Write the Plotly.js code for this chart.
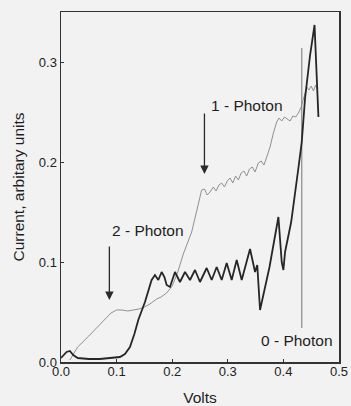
<!DOCTYPE html>
<html>
<head>
<meta charset="utf-8">
<script src="https://cdn.plot.ly/plotly-3.0.1.min.js"></script>
<style>html,body{margin:0;padding:0;background:#f2f2f2;}#chart{width:351px;height:406px;}</style>
</head>
<body>
<div id="chart"></div>
<script>
// Thin (grey) curve: 2-photon plateau then 1-photon step
const thinVolts = [0.016, 0.03, 0.05, 0.07, 0.09, 0.1, 0.11, 0.12, 0.13, 0.14, 0.15, 0.16, 0.172, 0.18, 0.19, 0.2, 0.21, 0.22, 0.235, 0.245, 0.253, 0.258, 0.263, 0.268, 0.274, 0.279, 0.284, 0.289, 0.294, 0.299, 0.304, 0.309, 0.314, 0.319, 0.324, 0.329, 0.334, 0.339, 0.344, 0.349, 0.355, 0.36, 0.365, 0.37, 0.376, 0.382, 0.388, 0.392, 0.397, 0.402, 0.407, 0.412, 0.417, 0.422, 0.427, 0.432, 0.437, 0.442, 0.446, 0.45, 0.454, 0.458, 0.461];
const thinCurrent = [0.002, 0.015, 0.026, 0.038, 0.049, 0.052, 0.052, 0.051, 0.052, 0.053, 0.055, 0.058, 0.063, 0.065, 0.069, 0.076, 0.09, 0.108, 0.13, 0.152, 0.172, 0.173, 0.167, 0.17, 0.175, 0.171, 0.177, 0.179, 0.175, 0.181, 0.184, 0.179, 0.186, 0.182, 0.189, 0.191, 0.186, 0.193, 0.195, 0.19, 0.199, 0.201, 0.197, 0.205, 0.215, 0.229, 0.24, 0.244, 0.241, 0.245, 0.243, 0.241, 0.246, 0.245, 0.249, 0.255, 0.265, 0.275, 0.272, 0.276, 0.271, 0.277, 0.272];

// Thick (dark) curve
const thickVolts = [0.0, 0.005, 0.01, 0.016, 0.022, 0.03, 0.05, 0.07, 0.09, 0.1, 0.106, 0.115, 0.124, 0.132, 0.139, 0.151, 0.158, 0.163, 0.169, 0.175, 0.181, 0.186, 0.19, 0.196, 0.205, 0.214, 0.223, 0.232, 0.241, 0.25, 0.262, 0.271, 0.28, 0.289, 0.298, 0.307, 0.316, 0.325, 0.34, 0.346, 0.349, 0.353, 0.358, 0.375, 0.391, 0.397, 0.4, 0.403, 0.414, 0.427, 0.433, 0.439, 0.448, 0.456, 0.463];
const thickCurrent = [0.004, 0.007, 0.01, 0.011, 0.007, 0.004, 0.003, 0.003, 0.004, 0.004, 0.005, 0.008, 0.015, 0.028, 0.042, 0.06, 0.072, 0.082, 0.087, 0.082, 0.09, 0.085, 0.077, 0.075, 0.09, 0.08, 0.09, 0.082, 0.092, 0.08, 0.094, 0.082, 0.095, 0.082, 0.099, 0.082, 0.102, 0.082, 0.113, 0.095, 0.09, 0.097, 0.052, 0.095, 0.145, 0.1, 0.092, 0.11, 0.14, 0.194, 0.22, 0.264, 0.307, 0.337, 0.245];

// 0-photon marker line
const zeroMarkVolts = [0.433, 0.433];
const zeroMarkCurrent = [0.034, 0.314];

// Labels and arrows
const labelTexts = ["1 - Photon", "2 - Photon", "0 - Photon"];
const labelVolts = [0.335, 0.157, 0.424];
const labelCurrent = [0.257, 0.132, 0.022];
const arrowVolts = [0.258, 0.087];
const arrowTopCurrent = [0.250, 0.117];
const arrowTipCurrent = [0.188, 0.062];

const xTicks = [0.0, 0.1, 0.2, 0.3, 0.4, 0.5];
const yTicks = [0.0, 0.1, 0.2, 0.3];

const traces = [
  {x: thinVolts, y: thinCurrent, mode: 'lines', line: {color: '#909090', width: 1}, hoverinfo: 'skip'},
  {x: zeroMarkVolts, y: zeroMarkCurrent, mode: 'lines', line: {color: '#8a8a8a', width: 1.2}, hoverinfo: 'skip'},
  {x: thickVolts, y: thickCurrent, mode: 'lines', line: {color: '#262626', width: 1.8}, hoverinfo: 'skip'}
];

const annotations = [];
for (let i = 0; i < labelTexts.length; i++) {
  annotations.push({x: labelVolts[i], y: labelCurrent[i], xref: 'x', yref: 'y', text: labelTexts[i], showarrow: false,
    font: {family: 'Liberation Sans, Arial, sans-serif', size: 15.5, color: '#1e1e1e'}});
}
for (let i = 0; i < arrowVolts.length; i++) {
  annotations.push({x: arrowVolts[i], y: arrowTipCurrent[i], ax: arrowVolts[i], ay: arrowTopCurrent[i], xref: 'x', yref: 'y', axref: 'x', ayref: 'y',
    text: '', showarrow: true, arrowhead: 2, arrowsize: 1.3, arrowwidth: 1.3, arrowcolor: '#2a2a2a'});
}

const font = {family: 'Liberation Sans, Arial, sans-serif', size: 13, color: '#222'};
const layout = {
  width: 351, height: 406,
  margin: {l: 61, r: 12, t: 12, b: 44},
  paper_bgcolor: '#f2f2f2', plot_bgcolor: '#f2f2f2',
  showlegend: false,
  font: font,
  xaxis: {
    range: [0, 0.5], tickvals: xTicks, ticktext: xTicks.map(v => v.toFixed(1)),
    ticks: 'inside', ticklen: 3, tickcolor: '#333', showgrid: false, zeroline: false,
    showline: true, linecolor: '#333', linewidth: 1.5, mirror: true,
    tickfont: font, ticklabelstandoff: -3,
    title: {text: 'Volts', font: {family: 'Liberation Sans, Arial, sans-serif', size: 15.5, color: '#1e1e1e'}, standoff: 14}
  },
  yaxis: {
    range: [0, 0.35], tickvals: yTicks, ticktext: yTicks.map(v => v.toFixed(1)),
    ticks: 'inside', ticklen: 3, tickcolor: '#333', showgrid: false, zeroline: false,
    showline: true, linecolor: '#333', linewidth: 1.5, mirror: true,
    tickfont: font,
    title: {text: 'Current, arbitary units', font: {family: 'Liberation Sans, Arial, sans-serif', size: 15.5, color: '#1e1e1e'}, standoff: 10}
  },
  annotations: annotations
};

Plotly.newPlot('chart', traces, layout, {displayModeBar: false, staticPlot: true});
</script>
</body>
</html>
